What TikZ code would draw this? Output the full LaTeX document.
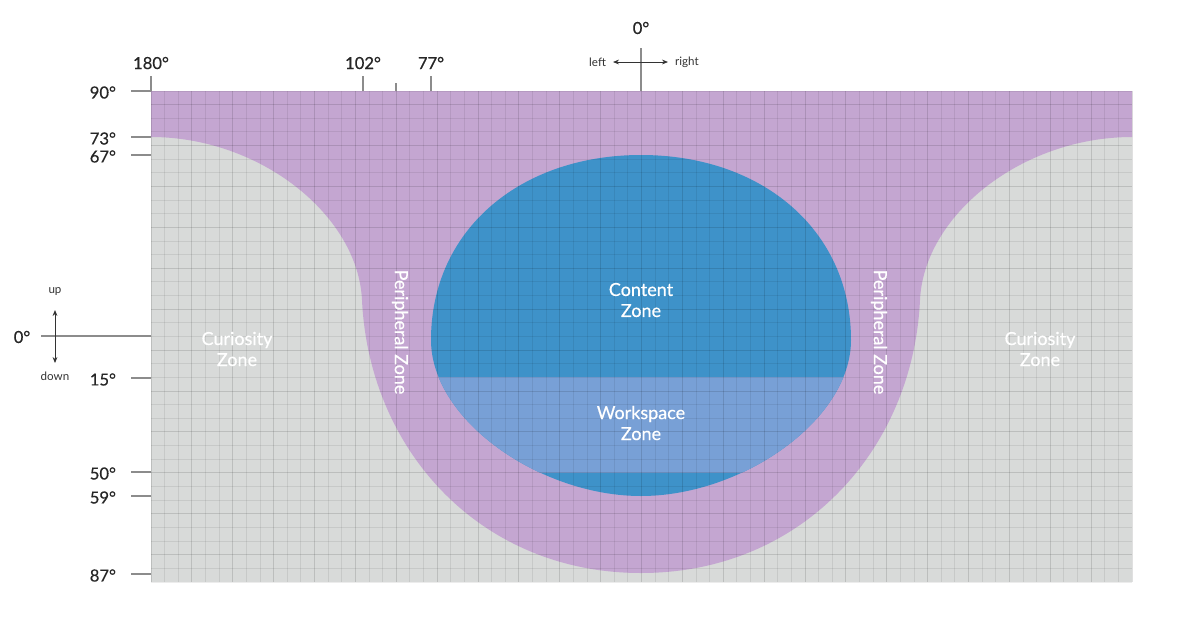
\documentclass[tikz,border=0pt]{standalone}
\usepackage{fontspec}
\setmainfont{Lato}
\newfontfamily\medlato{Lato}[FakeBold=0.5]
\usetikzlibrary{arrows.meta}
\definecolor{periph}{HTML}{C4A6D1}
\definecolor{curio}{HTML}{D8DAD9}
\definecolor{content}{HTML}{3E92C9}
\definecolor{workspace}{HTML}{78A0D6}
\definecolor{tickgray}{HTML}{8C8C8C}
\newcommand{\contentshape}{(431,340) .. controls (431,230) and (520,155) .. (641,155)
  .. controls (762,155) and (851,230) .. (851,340)
  .. controls (851,420) and (742,496) .. (641,496)
  .. controls (540,496) and (431,420) .. (431,340) -- cycle}

\begin{document}
\begin{tikzpicture}[x=0.5pt,y=-0.5pt,>={Stealth[length=3pt,width=2.4pt]},
  zonelabel/.style={text=white,align=center,font=\medlato\fontsize{9}{10.5}\selectfont},
  deglabel/.style={text=black!85,font=\medlato\fontsize{8.3}{9}\selectfont},
  dirlabel/.style={text=black!80,font=\fontsize{5.8}{7}\selectfont},
  tick/.style={tickgray,line width=0.7pt},
  gridline/.style={black,opacity=0.075,line width=0.5pt}]
  \useasboundingbox (0,0) rectangle (1185,622);
  % curiosity zone fills the whole field
  \fill[curio] (151,91) rectangle (1132,582);
  % peripheral zone hangs from the top edge
  \fill[periph] (151,91) -- (1132,91) -- (1132,137)
    .. controls (1022,137) and (924,215) .. (920,300)
    .. controls (913,450) and (802,573) .. (641,573)
    .. controls (480,573) and (369,450) .. (362,300)
    .. controls (358,215) and (260,137) .. (151,137) -- cycle;
  % content zone, workspace band across its lower part
  \fill[content] \contentshape;
  \begin{scope}
    \clip \contentshape;
    \fill[workspace] (431,377) rectangle (851,473);
  \end{scope}
  % grid over everything, every third line a bit darker
  \foreach \i in {0,...,72}
    \draw[gridline] ({151+\i*13.625},91) -- ({151+\i*13.625},582);
  \foreach \j in {0,...,36}
    \draw[gridline] (151,{91+\j*13.639}) -- (1132,{91+\j*13.639});
  \foreach \i in {0,3,...,72}
    \draw[gridline,opacity=0.05] ({151+\i*13.625},91) -- ({151+\i*13.625},582);
  \foreach \j in {1,4,...,34}
    \draw[gridline,opacity=0.05] (151,{91+\j*13.639}) -- (1132,{91+\j*13.639});
  % zone names
  \node[zonelabel] (curioL) at (237,349) {Curiosity\\Zone};
  \node[zonelabel] (curioR) at (1040,349) {Curiosity\\Zone};
  \node[zonelabel,rotate=-90] (periphL) at (400,332) {Peripheral Zone};
  \node[zonelabel,rotate=-90] (periphR) at (879,332) {Peripheral Zone};
  \node[zonelabel] (contentZ) at (641,300) {Content\\Zone};
  \node[zonelabel] (workZ) at (641,423) {Workspace\\Zone};
  % horizontal angles along the top
  \foreach \x/\deg in {151/180,363/102,431/77} {
    \node[deglabel,anchor=base] (top\deg) at (\x,69) {\deg°};
    \draw[tick] (\x,76) -- (\x,91);
  }
  \draw[tick] (396,83) -- (396,91);
  \node[deglabel] (topzero) at (641,28) {0°};
  \coordinate (topstem) at (641,48);
  \draw[tick] (topstem) -- (641,91);
  \coordinate (leftend) at (613,62);
  \coordinate (rightend) at (668,62);
  \draw[<->,black!80,line width=0.4pt] (leftend) -- (rightend);
  \node[dirlabel,anchor=east] (leftlab) at (leftend) {left};
  \node[dirlabel,anchor=west] (rightlab) at (rightend) {right};
  % vertical angles down the left side
  \foreach \y/\deg in {91/90,137/73,155/67,378/15,472/50,496/59,574/87} {
    \node[deglabel,anchor=east] (side\deg) at (123,\y+1.5) {\deg°};
    \draw[tick] (131,\y) -- (151,\y);
  }
  \node[deglabel] (sidezero) at (22,337) {0°};
  \coordinate (sidestem) at (41,336);
  \draw[tick] (sidestem) -- (151,336);
  \coordinate (upend) at (55,310);
  \coordinate (downend) at (55,363);
  \draw[<->,black!80,line width=0.4pt] (upend) -- (downend);
  \node[dirlabel] (uplab) at (55,291) {up};
  \node[dirlabel] (downlab) at (55,376) {down};
\end{tikzpicture}
\end{document}
